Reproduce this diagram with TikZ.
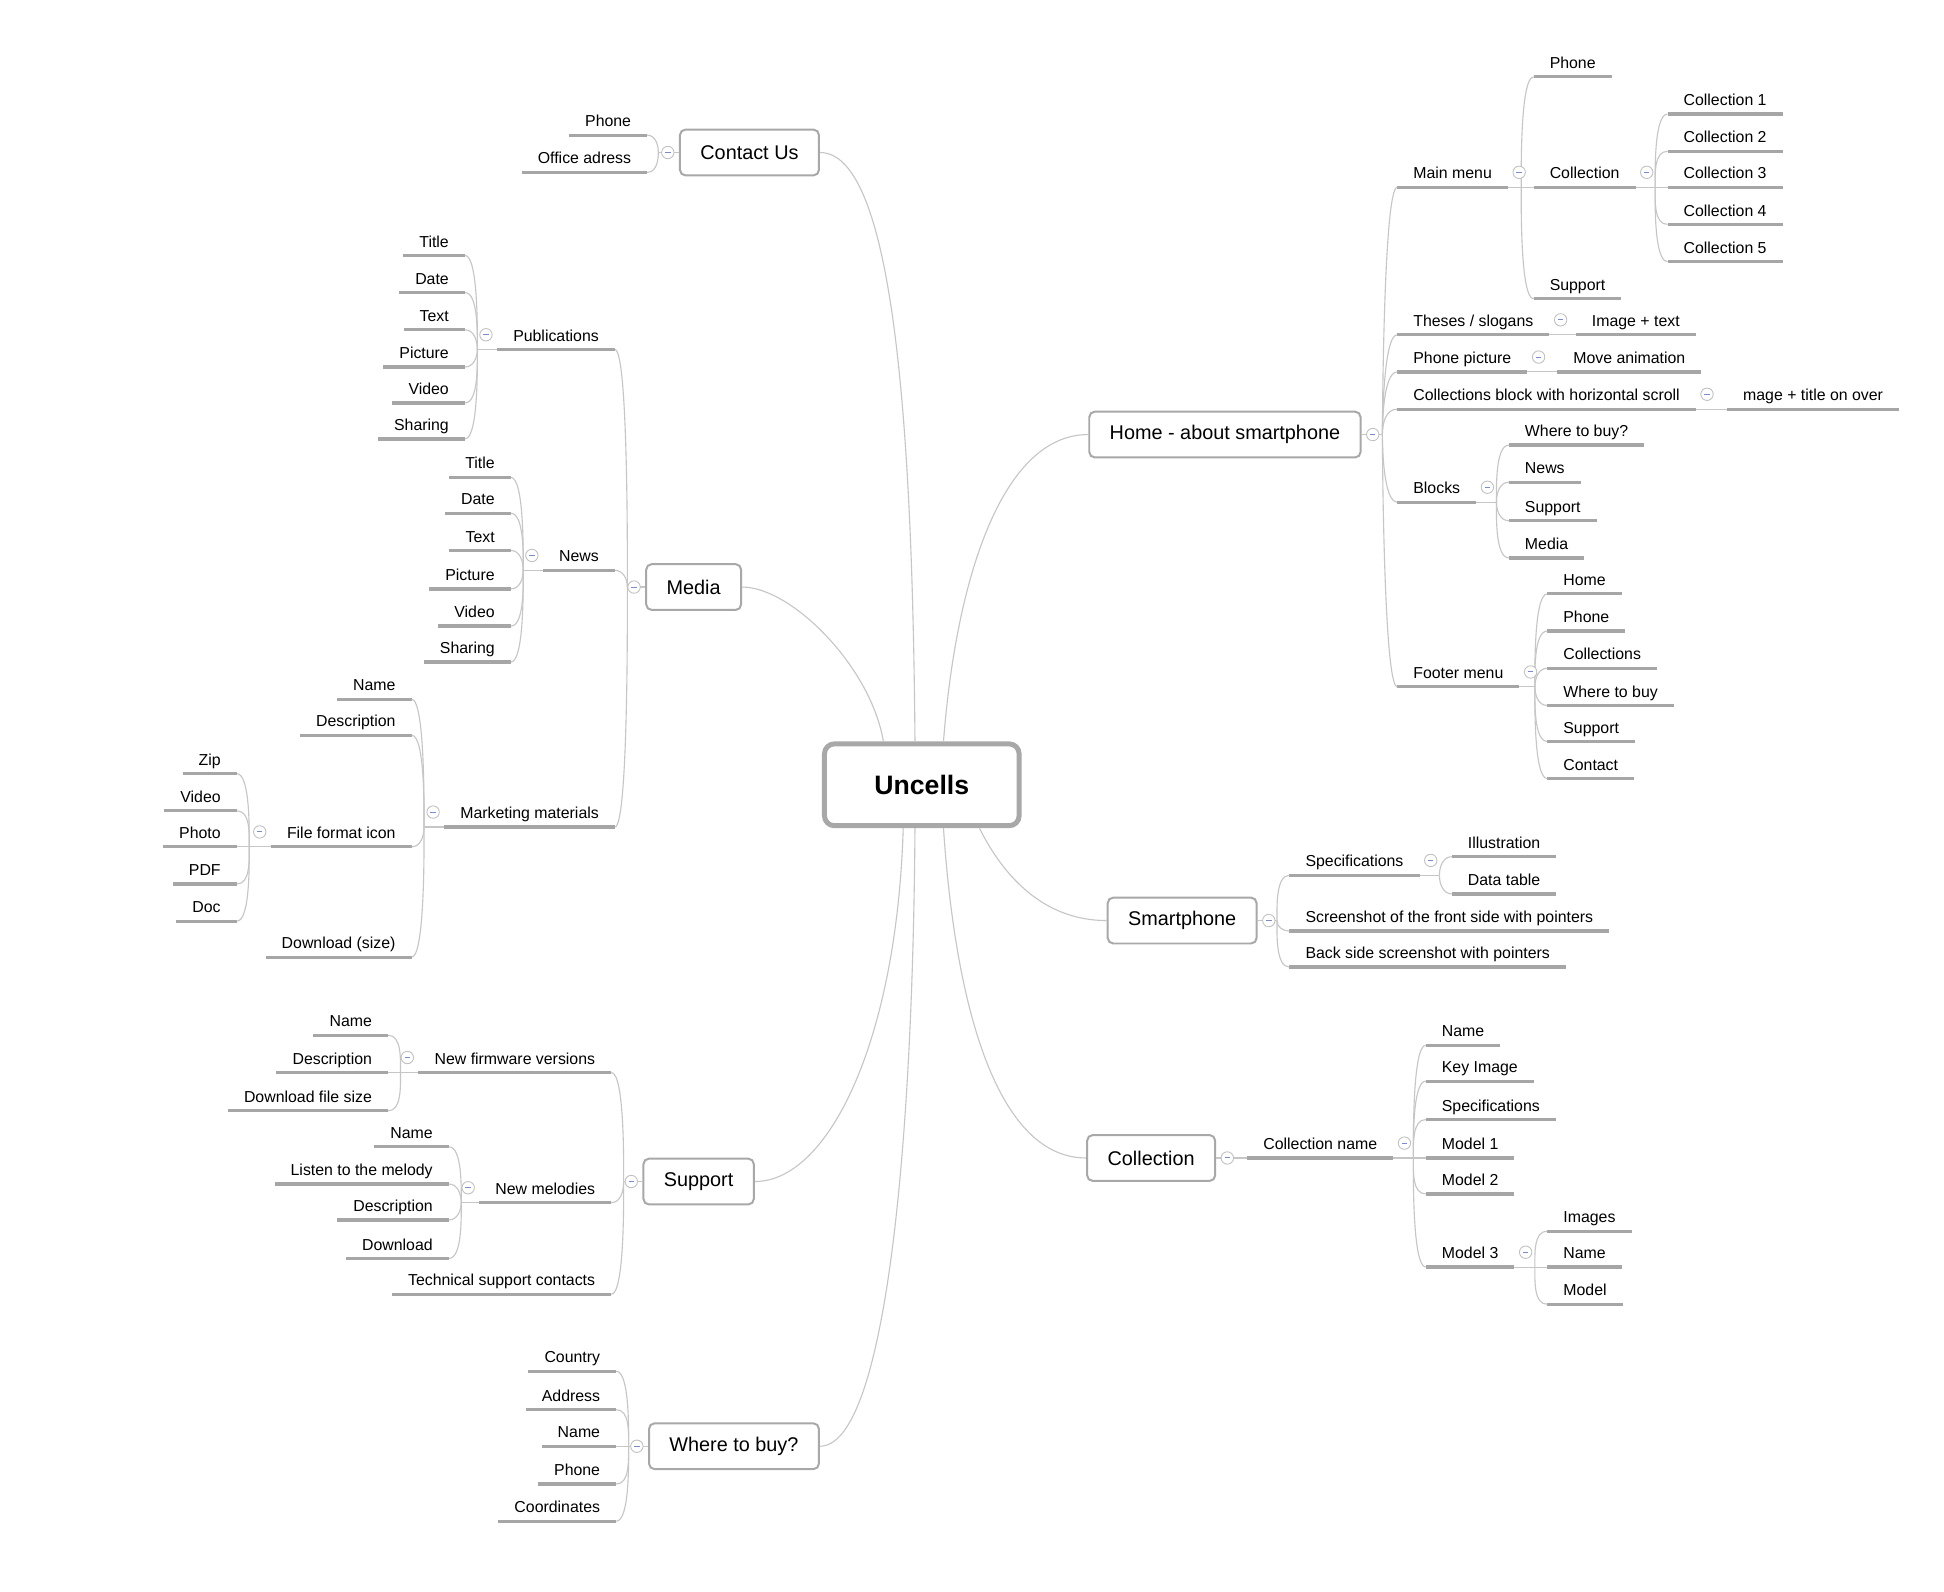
\documentclass[tikz,border=0pt]{standalone}
\usepackage{fontspec}
\setmainfont{Liberation Sans}

\definecolor{linkgray}{RGB}{198,198,198}
\definecolor{bargray}{RGB}{166,166,166}
\definecolor{boxgray}{RGB}{168,168,168}
\definecolor{foldgray}{RGB}{192,192,192}
\definecolor{foldblue}{RGB}{122,140,204}

\tikzset{
  rootbox/.style={draw=boxgray, line width=4pt, rounded corners=8pt, fill=white,
    minimum width=157pt, minimum height=66pt, font=\fontsize{21.5}{24}\selectfont\bfseries},
  topicbox/.style={draw=boxgray, line width=1.6pt, rounded corners=4.5pt, fill=white,
    inner xsep=16.5pt, inner ysep=0pt, minimum height=37pt, font=\fontsize{16}{19}\selectfont},
  leafbar/.style={draw=bargray, line width=2.6pt},
  leaf/.style={inner xsep=13pt, inner ysep=0pt, outer sep=0pt, minimum height=20pt,
    text height=9.2pt, text depth=2.7pt, font=\fontsize{12.8}{15}\selectfont,
    append after command={(\tikzlastnode.south west) edge[leafbar] (\tikzlastnode.south east)}},
  rleaf/.style={leaf, anchor=south west},
  lleaf/.style={leaf, anchor=south east},
  branch/.style={draw=linkgray, line width=0.9pt, max distance=11pt},
  mainlink/.style={draw=linkgray, line width=0.9pt},
  foldmark/.style={circle, draw=foldgray, line width=0.7pt, fill=white, minimum size=10pt, inner sep=0pt,
    path picture={\draw[foldblue, line width=0.8pt]
      ([xshift=-2.2pt]path picture bounding box.center) -- ([xshift=2.2pt]path picture bounding box.center);}},
}

\begin{document}
\begin{tikzpicture}[x=1pt,y=-1pt]
	%%%%% PAGE %%%%%
	\fill[white] (0,0) rectangle (1568,1284);
	\useasboundingbox (0,0) rectangle (1568,1284);

	%%%%% CENTRE AND MAIN TOPICS %%%%%
	\node[rootbox] (uncells) at (743.5,633) {Uncells};

	\node[topicbox] (home) at (988,350.5) {Home - about smartphone};
	\node[topicbox] (smartphone) at (953.5,742.5) {Smartphone};
	\node[topicbox] (collection) at (928.5,934) {Collection};
	\node[topicbox] (contact) at (604.5,123) {Contact Us};
	\node[topicbox] (media) at (559.5,473.5) {Media};
	\node[topicbox] (support) at (563.5,953) {Support};
	\node[topicbox] (wheretobuy) at (592,1166.5) {Where to buy?};

	\draw[mainlink] ([xshift=17.5pt]uncells.north) .. controls +(10,-130) and +(-70,0) .. (home.west);
	\draw[mainlink] ([xshift=-5.5pt]uncells.north) .. controls +(-2,-250) and +(60,0) .. (contact.east);
	\draw[mainlink] ([xshift=-31pt]uncells.north) .. controls +(-10,-60) and +(40,0) .. (media.east);
	\draw[mainlink] ([xshift=46.5pt]uncells.south) .. controls +(20,40) and +(-50,0) .. (smartphone.west);
	\draw[mainlink] ([xshift=17.5pt]uncells.south) .. controls +(10,150) and +(-70,0) .. (collection.west);
	\draw[mainlink] ([xshift=-15pt]uncells.south) .. controls +(-5,170) and +(60,0) .. (support.east);
	\draw[mainlink] ([xshift=-5.5pt]uncells.south) .. controls +(-2,280) and +(50,0) .. (wheretobuy.east);

	%%%%% HOME %%%%%
	\node[rleaf] (mainmenu) at (1127,151) {Main menu};
	\node[rleaf] (theses) at (1127,270) {Theses / slogans};
	\node[rleaf] (phonepic) at (1127,300) {Phone picture};
	\node[rleaf] (colblock) at (1127,330) {Collections block with horizontal scroll};
	\node[rleaf] (blocks) at (1127,405) {Blocks};
	\node[rleaf] (footer) at (1127,554) {Footer menu};

	\coordinate (jhome) at (1115,350.5);
	\draw[branch] (home.east) -- (jhome);
	\foreach \n in {mainmenu,theses,phonepic,colblock}
		\draw[branch] (jhome) to[out=90,in=180] (\n.south west);
	\foreach \n in {blocks,footer}
		\draw[branch] (jhome) to[out=-90,in=180] (\n.south west);

	% main menu
	\node[rleaf] (mmphone) at (1237,62) {Phone};
	\node[rleaf] (mmcoll) at (1237,151) {Collection};
	\node[rleaf] (mmsupport) at (1237,241) {Support};
	\foreach \i/\y in {1/92,2/122,3/151,4/181,5/211}
		\node[rleaf] (coll\i) at (1345,\y) {Collection \i};

	\coordinate (jmainmenu) at (1227,151);
	\draw[branch] (mainmenu.south east) -- (mmcoll.south west);
	\draw[branch] (jmainmenu) to[out=90,in=180] (mmphone.south west);
	\draw[branch] (jmainmenu) to[out=-90,in=180] (mmsupport.south west);
	\coordinate (jmmcoll) at (1335,151);
	\draw[branch] (mmcoll.south east) -- (coll3.south west);
	\foreach \i in {1,2}
		\draw[branch] (jmmcoll) to[out=90,in=180] (coll\i.south west);
	\foreach \i in {4,5}
		\draw[branch] (jmmcoll) to[out=-90,in=180] (coll\i.south west);

	% single children
	\node[rleaf] (imgtext) at (1271,270) {Image + text};
	\node[rleaf] (moveanim) at (1256,300) {Move animation};
	\node[rleaf] (imgtitle) at (1393,330) {mage + title on over};
	\draw[branch] (theses.south east) -- (imgtext.south west);
	\draw[branch] (phonepic.south east) -- (moveanim.south west);
	\draw[branch] (colblock.south east) -- (imgtitle.south west);

	% blocks
	\foreach \n/\y/\t in {bwhere/359/Where to buy?,bnews/389/News,bsupport/420/Support,bmedia/450/Media}
		\node[rleaf] (\n) at (1217,\y) {\t};
	\coordinate (jblocks) at (1207,405);
	\draw[branch] (blocks.south east) -- (jblocks);
	\foreach \n in {bwhere,bnews}
		\draw[branch] (jblocks) to[out=90,in=180] (\n.south west);
	\foreach \n in {bsupport,bmedia}
		\draw[branch] (jblocks) to[out=-90,in=180] (\n.south west);

	% footer menu
	\foreach \n/\y/\t in {fhome/479/Home,fphone/509/Phone,fcolls/539/Collections,
		fwhere/569/Where to buy,fsupport/598/Support,fcontact/628/Contact}
		\node[rleaf] (\n) at (1248,\y) {\t};
	\coordinate (jfooter) at (1238,554);
	\draw[branch] (footer.south east) -- (jfooter);
	\foreach \n in {fhome,fphone,fcolls}
		\draw[branch] (jfooter) to[out=90,in=180] (\n.south west);
	\foreach \n in {fwhere,fsupport,fcontact}
		\draw[branch] (jfooter) to[out=-90,in=180] (\n.south west);

	%%%%% SMARTPHONE %%%%%
	\node[rleaf] (specs) at (1040,706) {Specifications};
	\node[rleaf] (front) at (1040,751) {Screenshot of the front side with pointers};
	\node[rleaf] (back) at (1040,780) {Back side screenshot with pointers};
	\node[rleaf] (illus) at (1171,691) {Illustration};
	\node[rleaf] (datatab) at (1171,721) {Data table};

	\coordinate (jsmart) at (1030,742.5);
	\draw[branch] (smartphone.east) -- (jsmart);
	\draw[branch] (jsmart) to[out=90,in=180] (specs.south west);
	\foreach \n in {front,back}
		\draw[branch] (jsmart) to[out=-90,in=180] (\n.south west);
	\coordinate (jspecs) at (1161,706);
	\draw[branch] (specs.south east) -- (jspecs);
	\draw[branch] (jspecs) to[out=90,in=180] (illus.south west);
	\draw[branch] (jspecs) to[out=-90,in=180] (datatab.south west);

	%%%%% COLLECTION %%%%%
	\node[rleaf] (collname) at (1006,934) {Collection name};
	\foreach \n/\y/\t in {cname/843/Name,ckey/872/Key Image,cspecs/903/Specifications,
		model1/934/Model 1,model2/963/Model 2,model3/1022/Model 3}
		\node[rleaf] (\n) at (1150,\y) {\t};
	\foreach \n/\y/\t in {mimages/993/Images,mname/1022/Name,mmodel/1052/Model}
		\node[rleaf] (\n) at (1248,\y) {\t};

	\draw[branch] (collection.east) -- (collname.south west);
	\coordinate (jcollname) at (1140,934);
	\draw[branch] (collname.south east) -- (model1.south west);
	\foreach \n in {cname,ckey,cspecs}
		\draw[branch] (jcollname) to[out=90,in=180] (\n.south west);
	\foreach \n in {model2,model3}
		\draw[branch] (jcollname) to[out=-90,in=180] (\n.south west);
	\coordinate (jmodel) at (1238,1022);
	\draw[branch] (model3.south east) -- (mname.south west);
	\draw[branch] (jmodel) to[out=90,in=180] (mimages.south west);
	\draw[branch] (jmodel) to[out=-90,in=180] (mmodel.south west);

	%%%%% CONTACT US %%%%%
	\node[lleaf] (cphone) at (522,109) {Phone};
	\node[lleaf] (coffice) at (522,139) {Office adress};
	\coordinate (jcontact) at (531,123);
	\draw[branch] (contact.west) -- (jcontact);
	\draw[branch] (jcontact) to[out=90,in=0] (cphone.south east);
	\draw[branch] (jcontact) to[out=-90,in=0] (coffice.south east);

	%%%%% MEDIA %%%%%
	\node[lleaf] (pubs) at (496,282) {Publications};
	\node[lleaf] (news) at (496,460) {News};
	\node[lleaf] (market) at (496,667) {Marketing materials};
	\coordinate (jmedia) at (506,473.5);
	\draw[branch] (media.west) -- (jmedia);
	\foreach \n in {pubs,news}
		\draw[branch] (jmedia) to[out=90,in=0] (\n.south east);
	\draw[branch] (jmedia) to[out=-90,in=0] (market.south east);

	% publications and news share one list of fields
	\foreach \n/\ya/\yb/\t in {title/206/385/Title,date/236/414/Date,text/266/444/Text,
		picture/296/475/Picture,video/325/505/Video,sharing/354/534/Sharing} {
		\node[lleaf] (p\n) at (375,\ya) {\t};
		\node[lleaf] (n\n) at (412,\yb) {\t};
	}
	\coordinate (jpubs) at (385,282);
	\coordinate (jnews) at (422,460);
	\draw[branch] (pubs.south west) -- (jpubs);
	\draw[branch] (news.south west) -- (jnews);
	\foreach \n in {title,date,text} {
		\draw[branch] (jpubs) to[out=90,in=0] (p\n.south east);
		\draw[branch] (jnews) to[out=90,in=0] (n\n.south east);
	}
	\foreach \n in {picture,video,sharing} {
		\draw[branch] (jpubs) to[out=-90,in=0] (p\n.south east);
		\draw[branch] (jnews) to[out=-90,in=0] (n\n.south east);
	}

	% marketing materials
	\node[lleaf] (mkname) at (332,564) {Name};
	\node[lleaf] (mkdesc) at (332,593) {Description};
	\node[lleaf] (fileicon) at (332,683) {File format icon};
	\node[lleaf] (mkdown) at (332,772) {Download (size)};
	\coordinate (jmarket) at (342,667);
	\draw[branch] (market.south west) -- (jmarket);
	\foreach \n in {mkname,mkdesc}
		\draw[branch] (jmarket) to[out=90,in=0] (\n.south east);
	\foreach \n in {fileicon,mkdown}
		\draw[branch] (jmarket) to[out=-90,in=0] (\n.south east);

	\foreach \n/\y/\t in {fzip/624/Zip,fvideo/654/Video,fphoto/683/Photo,fpdf/713/PDF,fdoc/743/Doc}
		\node[lleaf] (\n) at (191,\y) {\t};
	\coordinate (jfileicon) at (201,683);
	\draw[branch] (fileicon.south west) -- (fphoto.south east);
	\foreach \n in {fzip,fvideo}
		\draw[branch] (jfileicon) to[out=90,in=0] (\n.south east);
	\foreach \n in {fpdf,fdoc}
		\draw[branch] (jfileicon) to[out=-90,in=0] (\n.south east);

	%%%%% SUPPORT %%%%%
	\node[lleaf] (firmware) at (493,865) {New firmware versions};
	\node[lleaf] (melodies) at (493,970) {New melodies};
	\node[lleaf] (techsupport) at (493,1044) {Technical support contacts};
	\coordinate (jsupport) at (503,953);
	\draw[branch] (support.west) -- (jsupport);
	\draw[branch] (jsupport) to[out=90,in=0] (firmware.south east);
	\foreach \n in {melodies,techsupport}
		\draw[branch] (jsupport) to[out=-90,in=0] (\n.south east);

	\node[lleaf] (fwname) at (313,835) {Name};
	\node[lleaf] (fwdesc) at (313,865) {Description};
	\node[lleaf] (fwsize) at (313,896) {Download file size};
	\coordinate (jfirmware) at (323,865);
	\draw[branch] (firmware.south west) -- (fwdesc.south east);
	\draw[branch] (jfirmware) to[out=90,in=0] (fwname.south east);
	\draw[branch] (jfirmware) to[out=-90,in=0] (fwsize.south east);

	\foreach \n/\y/\t in {mlname/925/Name,mllisten/955/Listen to the melody,
		mldesc/984/Description,mldown/1015/Download}
		\node[lleaf] (\n) at (362,\y) {\t};
	\coordinate (jmelodies) at (372,970);
	\draw[branch] (melodies.south west) -- (jmelodies);
	\foreach \n in {mlname,mllisten}
		\draw[branch] (jmelodies) to[out=90,in=0] (\n.south east);
	\foreach \n in {mldesc,mldown}
		\draw[branch] (jmelodies) to[out=-90,in=0] (\n.south east);

	%%%%% WHERE TO BUY %%%%%
	\foreach \n/\y/\t in {wcountry/1106/Country,waddress/1137/Address,wname/1166.5/Name,
		wphone/1197/Phone,wcoords/1227/Coordinates}
		\node[lleaf] (\n) at (497,\y) {\t};
	\coordinate (jwhere) at (507,1166.5);
	\draw[branch] (wheretobuy.west) -- (wname.south east);
	\foreach \n in {wcountry,waddress}
		\draw[branch] (jwhere) to[out=90,in=0] (\n.south east);
	\foreach \n in {wphone,wcoords}
		\draw[branch] (jwhere) to[out=-90,in=0] (\n.south east);

	%%%%% FOLD MARKS %%%%%
	\node[foldmark] (fmhome) at ([xshift=9pt]home.east) {};
	\node[foldmark] (fmsmart) at ([xshift=9pt]smartphone.east) {};
	\node[foldmark] (fmcoll) at ([xshift=9pt]collection.east) {};
	\node[foldmark] (fmcontact) at ([xshift=-9pt]contact.west) {};
	\node[foldmark] (fmmedia) at ([xshift=-9pt]media.west) {};
	\node[foldmark] (fmsupport) at ([xshift=-9pt]support.west) {};
	\node[foldmark] (fmwhere) at ([xshift=-9pt]wheretobuy.west) {};

	\foreach \n in {mainmenu,mmcoll,theses,phonepic,colblock,blocks,footer,specs,collname,model3}
		\node[foldmark] (fm\n) at ([xshift=9pt,yshift=12pt]\n.south east) {};
	\foreach \n in {pubs,news,market,fileicon,firmware,melodies}
		\node[foldmark] (fm\n) at ([xshift=-9pt,yshift=12pt]\n.south west) {};
\end{tikzpicture}
\end{document}
